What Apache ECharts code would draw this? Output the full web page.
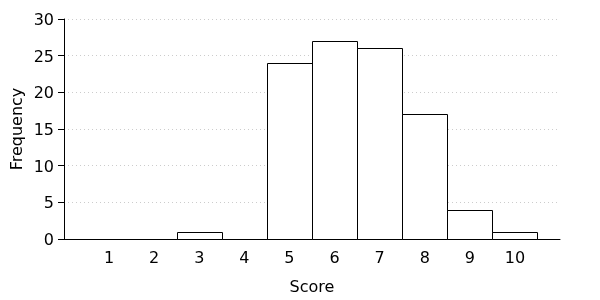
<!DOCTYPE html>
<html><head><meta charset="utf-8">
<script src="https://cdn.jsdelivr.net/npm/echarts@6/dist/echarts.min.js"></script>
<style>html,body{margin:0;padding:0;background:#fff}#c{width:600px;height:300px}</style>
</head><body><div id="c"></div>
<script>
const scores = [1, 2, 3, 4, 5, 6, 7, 8, 9, 10];
const frequency = [0, 0, 1, 0, 24, 27, 26, 17, 4, 1];
const yTicks = [0, 5, 10, 15, 20, 25, 30];

const chart = echarts.init(document.getElementById('c'), null, {renderer: 'canvas'});
const font = 'DejaVu Sans';
const fs = 16;
chart.setOption({
  animation: false,
  backgroundColor: '#fff',
  grid: {left: 64, right: 40, top: 19, bottom: 61, containLabel: false, outerBoundsMode: 'none'},
  xAxis: {
    type: 'value', min: 0, max: 11, interval: 1,
    name: 'Score', nameLocation: 'middle', nameGap: 41, nameMoveOverlap: false,
    nameTextStyle: {fontFamily: font, fontSize: fs, color: '#000'},
    axisLine: {show: true, lineStyle: {color: '#000', width: 1}},
    axisTick: {show: false},
    splitLine: {show: false},
    axisLabel: {
      fontFamily: font, fontSize: fs, color: '#000', margin: 12,
      formatter: v => scores.includes(v) ? String(v) : ''
    }
  },
  yAxis: {
    type: 'value', min: 0, max: 30, interval: 5,
    name: 'Frequency', nameLocation: 'middle', nameGap: 38, nameRotate: 90, nameMoveOverlap: false,
    nameTextStyle: {fontFamily: font, fontSize: fs, color: '#000'},
    axisLine: {show: true, lineStyle: {color: '#000', width: 1}},
    axisTick: {show: true, length: 6, lineStyle: {color: '#000'}},
    splitLine: {show: true, lineStyle: {color: '#ccc', type: [1, 3], width: 1}},
    axisLabel: {fontFamily: font, fontSize: fs, color: '#000', margin: 10,
      formatter: v => yTicks.includes(v) ? '{a|' + v + '}' : '',
      rich: {a: {fontFamily: font, fontSize: fs, color: '#000', padding: [4, 0, 0, 0]}}}
  },
  series: [{
    type: 'custom',
    data: scores.map((s, i) => [s, frequency[i]]),
    renderItem: function (params, api) {
      const x = api.value(0), y = api.value(1);
      if (y <= 0) return null;
      const p0 = api.coord([x - 0.5, y]);
      const p1 = api.coord([x + 0.5, 0]);
      return {
        type: 'rect',
        shape: {x: Math.round(p0[0]) + 0.5, y: Math.round(p0[1]) + 0.5,
                width: Math.round(p1[0] - p0[0]), height: Math.round(p1[1] - p0[1])},
        style: {fill: '#fff', stroke: '#000', lineWidth: 1}
      };
    }
  }]
});
</script></body></html>
